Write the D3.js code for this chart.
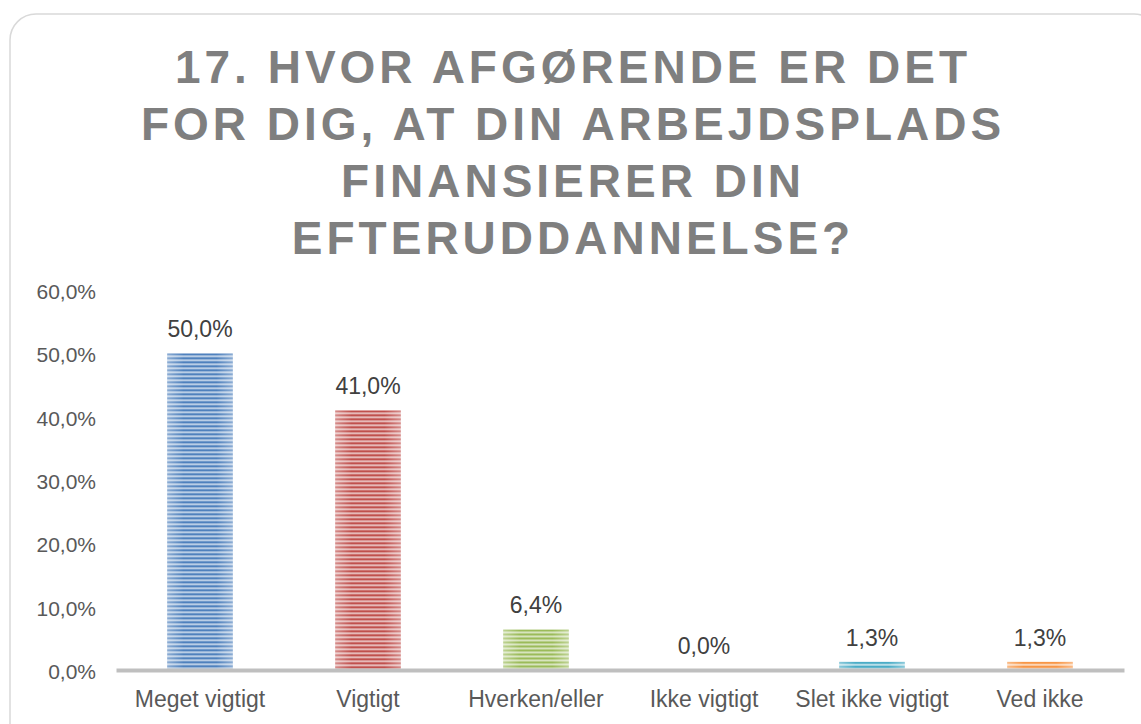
<!DOCTYPE html>
<html>
<head>
<meta charset="utf-8">
<script src="https://cdn.jsdelivr.net/npm/d3@7"></script>
<style>
  body { margin: 0; background: #fff; }
  svg { display: block; font-family: "Liberation Sans", Arial, sans-serif; }
</style>
</head>
<body>
<svg id="chart" width="1141" height="724"></svg>
<script>
// chart data
const categories = ['Meget vigtigt', 'Vigtigt', 'Hverken/eller', 'Ikke vigtigt', 'Slet ikke vigtigt', 'Ved ikke']
const values = [50.0, 41.0, 6.4, 0.0, 1.3, 1.3]
const colors = ['#4f81bd', '#c0504d', '#9bbb59', '#8064a2', '#4bacc6', '#f79646']
const yTicks = [0, 10, 20, 30, 40, 50, 60]
const titleLines = ['17. HVOR AFGØRENDE ER DET', 'FOR DIG, AT DIN ARBEJDSPLADS', 'FINANSIERER DIN', 'EFTERUDDANNELSE?']

const fmt = v => v.toFixed(1).replace('.', ',') + '%'

const svg = d3.select('#chart')

// outer frame
svg.append('rect')
  .attr('x', 10).attr('y', 14)
  .attr('width', 1150).attr('height', 740)
  .attr('rx', 26).attr('ry', 26)
  .attr('fill', '#fff')
  .attr('stroke', '#d9d9d9')
  .attr('stroke-width', 1.5)

// title
svg.append('g').selectAll('text')
  .data(titleLines)
  .enter().append('text')
  .attr('x', 573)
  .attr('y', (d, i) => 83 + i * 57)
  .attr('text-anchor', 'middle')
  .attr('fill', '#7f7f7f')
  .attr('font-weight', 'bold')
  .attr('font-size', 46)
  .attr('letter-spacing', 4)
  .text(d => d)

const x = d3.scaleBand().domain(categories).range([116, 1124]).paddingInner(0.61).paddingOuter(0.305)
const y = d3.scaleLinear().domain([0, 60]).range([670, 290])

// striped fills
const defs = svg.append('defs')
const grad = defs.append('linearGradient').attr('id', 'shine').attr('x1', 0).attr('x2', 1).attr('y1', 0).attr('y2', 0)
grad.append('stop').attr('offset', '0%').attr('stop-color', '#fff').attr('stop-opacity', 0.35)
grad.append('stop').attr('offset', '25%').attr('stop-color', '#fff').attr('stop-opacity', 0)
grad.append('stop').attr('offset', '75%').attr('stop-color', '#fff').attr('stop-opacity', 0)
grad.append('stop').attr('offset', '100%').attr('stop-color', '#fff').attr('stop-opacity', 0.35)

colors.forEach((c, i) => {
  const p = defs.append('pattern')
    .attr('id', 'stripe' + i)
    .attr('patternUnits', 'userSpaceOnUse')
    .attr('width', 4).attr('height', 4)
    .attr('y', y(values[i]))
  p.append('rect').attr('width', 4).attr('height', 4).attr('fill', d3.interpolateRgb(c, '#fff')(0.6))
  p.append('rect').attr('width', 4).attr('height', 2).attr('fill', c)
})

// y axis
const yAxis = svg.append('g')
  .attr('transform', 'translate(96,0)')
  .call(d3.axisLeft(y).tickValues(yTicks).tickSize(0).tickPadding(0).tickFormat(fmt))
yAxis.select('.domain').remove()
yAxis.selectAll('text')
  .attr('font-family', '"Liberation Sans", Arial, sans-serif')
  .attr('font-size', 21)
  .attr('dy', '0.4em')
  .attr('fill', '#595959')

// bars
const bars = svg.append('g')
bars.selectAll('.bar')
  .data(values)
  .enter().append('rect')
  .attr('class', 'bar')
  .attr('x', (d, i) => x(categories[i]))
  .attr('y', d => y(d))
  .attr('width', x.bandwidth())
  .attr('height', d => y(0) - y(d))
  .attr('fill', (d, i) => 'url(#stripe' + i + ')')
bars.selectAll('.shine')
  .data(values)
  .enter().append('rect')
  .attr('class', 'shine')
  .attr('x', (d, i) => x(categories[i]))
  .attr('y', d => y(d))
  .attr('width', x.bandwidth())
  .attr('height', d => y(0) - y(d))
  .attr('fill', 'url(#shine)')

// x axis line and labels
const xAxis = svg.append('g')
  .attr('transform', 'translate(0,' + y(0) + ')')
  .call(d3.axisBottom(x).tickSize(0).tickPadding(21).tickSizeOuter(0))
xAxis.select('.domain')
  .attr('stroke', '#bfbfbf')
  .attr('stroke-width', 4)
xAxis.selectAll('text')
  .attr('font-family', '"Liberation Sans", Arial, sans-serif')
  .attr('font-size', 23)
  .attr('fill', '#595959')

// data labels
svg.append('g').selectAll('text')
  .data(values)
  .enter().append('text')
  .attr('x', (d, i) => x(categories[i]) + x.bandwidth() / 2)
  .attr('y', d => y(d) - 16)
  .attr('text-anchor', 'middle')
  .attr('font-size', 23)
  .attr('fill', '#404040')
  .text(d => fmt(d))
</script>
</body>
</html>
